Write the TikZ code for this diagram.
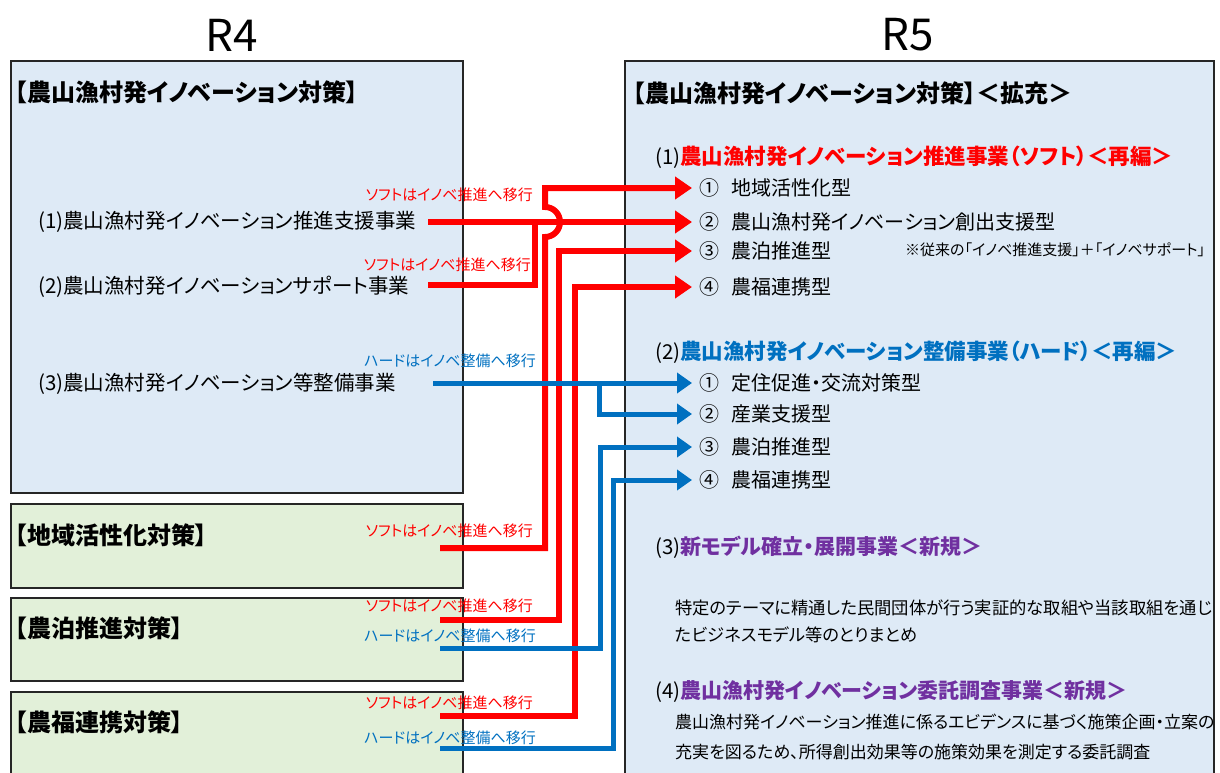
\documentclass[tikz,border=0pt]{standalone}
\usepackage{fontspec}
\setmainfont{Noto Sans CJK JP}[RawFeature=+palt]
\usetikzlibrary{arrows.meta}
\definecolor{softred}{HTML}{FF0000}
\definecolor{hardblue}{HTML}{0070C0}
\definecolor{newpurple}{HTML}{7030A0}
\definecolor{panelblue}{HTML}{DEEAF6}
\definecolor{panelgreen}{HTML}{E2F0D9}
\definecolor{framegray}{HTML}{262626}
\newcommand{\fsz}[2]{\fontsize{#1}{#2}\selectfont}

\tikzset{
  panel/.style={draw=framegray, line width=1.8pt},
  txt/.style={anchor=west, inner sep=0pt, font=\fsz{20.5}{24}},
  head/.style={anchor=west, inner sep=0pt, font=\fsz{24}{28}\bfseries},
  tag/.style={anchor=east, inner sep=0pt, font=\fsz{15}{18}},
  item/.style={anchor=west, inner sep=0pt, font=\fsz{20}{24}},
  softbar/.style={line width=6pt, softred},
  hardbar/.style={line width=5pt, hardblue},
  softline/.style={softbar, -{Triangle[length=17pt,width=22pt]}},
  hardline/.style={hardbar, -{Triangle[length=15pt,width=20pt]}},
}
\newcommand{\ttl}[3][21.5]{\textbf{\color{#2}\fsz{#1}{26}#3}}

\begin{document}
\begin{tikzpicture}[x=1pt,y=-1pt]
                \useasboundingbox (0,0) rectangle (1220,773);
                % panels
                \draw[panel, fill=panelblue](11,61)rectangle(463,493);
                \draw[panel, fill=panelgreen](11,504)rectangle(463,588);
                \draw[panel, fill=panelgreen](11,598)rectangle(463,681);
                \draw[panel, fill=panelgreen](11,692)rectangle(463,790);
                \draw[panel, fill=panelblue](625,61)rectangle(1214,790);
                \node (tR4) at (232,35){\fsz{44}{48}R4};
                \node (tR5) at (908,35){\fsz{44}{48}R5};
                % R4 side
                \node[head] (hL) at (15,92){【農山漁村発イノベーション対策】};
                \node[txt] (s1) at (38,222){(1)農山漁村発イノベーション推進支援事業};
                \node[txt] (s2) at (38,287){(2)農山漁村発イノベーションサポート事業};
                \node[txt] (s3) at (38,384){(3)農山漁村発イノベーション等整備事業};
                \node[head] (g1) at (15,535){【地域活性化対策】};
                \node[head] (g2) at (15,628){【農泊推進対策】};
                \node[head] (g3) at (15,722){【農福連携対策】};
                % R5 side
                \node[head] (hR) at (633,93){【農山漁村発イノベーション対策】＜拡充＞};
                \node[txt] (p1) at (655,157){(1)\ttl{softred}{農山漁村発イノベーション推進事業（ソフト）＜再編＞}};
                \node[item] (r1) at (692,188){\hspace{7pt}①\hspace{12pt}地域活性化型};
                \node[item] (r2) at (692,222){\hspace{7pt}②\hspace{12pt}農山漁村発イノベーション創出支援型};
                \node[item] (r3) at (692,251){\hspace{7pt}③\hspace{12pt}農泊推進型};
                \node[item] (r4) at (692,287){\hspace{7pt}④\hspace{12pt}農福連携型};
                \node[anchor=west, inner sep=0pt, font=\fsz{15}{18}] (note) at (905,250){※従来の「イノベ推進支援」＋「イノベサポート」};
                \node[txt] (p2) at (655,352){(2)\ttl{hardblue}{農山漁村発イノベーション整備事業（ハード）＜再編＞}};
                \node[item] (h1) at (692,383){\hspace{7pt}①\hspace{12pt}定住促進・交流対策型};
                \node[item] (h2) at (692,414){\hspace{7pt}②\hspace{12pt}産業支援型};
                \node[item] (h3) at (692,447){\hspace{7pt}③\hspace{12pt}農泊推進型};
                \node[item] (h4) at (692,480){\hspace{7pt}④\hspace{12pt}農福連携型};
                \node[txt] (p3) at (655,547){(3)\ttl[21]{newpurple}{新モデル確立・展開事業＜新規＞}};
                \node[anchor=west, inner sep=0pt, align=left, font=\fsz{17.3}{27}] (n3) at (675,621){特定のテーマに精通した民間団体が行う実証的な取組や当該取組を通じ\\たビジネスモデル等のとりまとめ};
                \node[txt] (p4) at (655,692){(4)\ttl[21]{newpurple}{農山漁村発イノベーション委託調査事業＜新規＞}};
                \node[anchor=west, inner sep=0pt, align=left, font=\fsz{17}{30}] (n4) at (675,737){農山漁村発イノベーション推進に係るエビデンスに基づく施策企画・立案の\\充実を図るため、所得創出効果等の施策効果を測定する委託調査};
                % tags
                \node[tag, softred] (l1) at (533,195){ソフトはイノベ推進へ移行};
                \node[tag, softred] (l2) at (531,265){ソフトはイノベ推進へ移行};
                \node[tag, hardblue] (l3) at (536,361){ハードはイノベ整備へ移行};
                \node[tag, softred] (l4) at (533,531){ソフトはイノベ推進へ移行};
                \node[tag, softred] (l5) at (533,606){ソフトはイノベ推進へ移行};
                \node[tag, hardblue] (l6) at (536,636){ハードはイノベ整備へ移行};
                \node[tag, softred] (l7) at (533,703){ソフトはイノベ推進へ移行};
                \node[tag, hardblue] (l8) at (536,738){ハードはイノベ整備へ移行};
                % line starts
                \coordinate (a1) at (428,222);
                \coordinate (a2) at (428,285);
                \coordinate (a3) at (433,383);
                \coordinate (c1) at (440,548);
                \coordinate (c2) at (440,620);
                \coordinate (c3) at (440,716);
                \coordinate (d2) at (440,648);
                \coordinate (d3) at (440,748);
                \coordinate (hop) at (545,222);
                \coordinate (bj) at (599,383);
                % soft
                \draw[softline](a1)--(r2.west);
                \draw[softbar](a2)-|(535,222);
                \draw[softline](c1)-|([yshift=-15pt]hop) arc[start angle=-90,end angle=90,radius=15pt] |-(r1.west);
                \draw[softline](c2)-|(559,251)--(r3.west);
                \draw[softline](c3)-|(575,287)--(r4.west);
                % hard
                \draw[hardline](a3)--(h1.west);
                \draw[hardline](bj)|-(h2.west);
                \draw[hardline](d2)-|(600,447)--(h3.west);
                \draw[hardline](d3)-|(613,480)--(h4.west);
            \end{tikzpicture}
\end{document}
